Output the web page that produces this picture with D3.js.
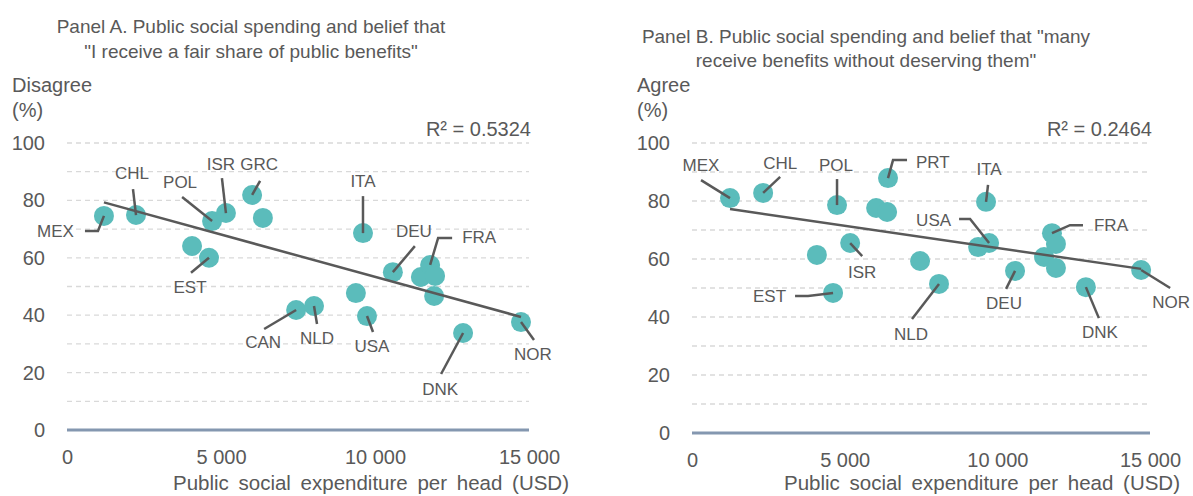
<!DOCTYPE html>
<html><head><meta charset="utf-8">
<script src="https://cdn.jsdelivr.net/npm/d3@7"></script>
<style>
html,body{margin:0;padding:0;background:#fff;}
text{font-family:"Liberation Sans",Arial,sans-serif;fill:#595959;}
</style></head>
<body><svg id="chart" width="1193" height="496"></svg>
<script>
// ---------- DATA ----------
const yTicks = [0, 20, 40, 60, 80, 100];
const xTicks = [0, 5000, 10000, 15000];
const xTickLabels = ["0", "5 000", "10 000", "15 000"];

// Panel A: disagree that "I receive a fair share of public benefits"
const countriesA = ["MEX","CHL","","EST","POL","ISR","GRC","","CAN","NLD","","ITA","USA","DEU","","FRA","","","DNK","NOR"];
const spendA     = [1200, 2240, 4060, 4610, 4710, 5160, 6010, 6360, 7440, 8020, 9380, 9610, 9740, 10580, 11490, 11790, 11950, 11920, 12860, 14740];
const shareA     = [74.6, 74.9, 64.1, 60.0, 72.8, 75.6, 81.9, 73.9, 41.8, 43.2, 47.7, 68.6, 39.7, 55.0, 53.3, 57.5, 53.7, 46.7, 33.8, 37.6];
const trendA     = [82.85, -0.002948];   // linear trend: intercept, slope
const r2A = "R² = 0.5324";

// Panel B: agree that "many receive benefits without deserving them"
const countriesB = ["MEX","CHL","","EST","POL","ISR","","","PRT","","NLD","","USA","ITA","DEU","","FRA","","","DNK","NOR"];
const spendB     = [1245, 2330, 4090, 4620, 4750, 5180, 6030, 6390, 6420, 7470, 8090, 9370, 9730, 9630, 10580, 11530, 11790, 11920, 11920, 12900, 14710];
const shareB     = [81.0, 82.8, 61.4, 48.3, 78.6, 65.5, 77.6, 76.2, 87.9, 59.3, 51.4, 64.1, 65.5, 79.7, 55.9, 60.7, 68.9, 65.2, 56.9, 50.3, 56.2];
const trendB     = [79.11, -0.0015305];
const r2B = "R² = 0.2464";

const titleA = ["Panel A. Public social spending and belief that", "\"I receive a fair share of public benefits\""];
const titleB = ["Panel B. Public social spending and belief that \"many", "receive benefits without deserving them\""];
const yTitleA = ["Disagree", "(%)"];
const yTitleB = ["Agree", "(%)"];
const xTitle = "Public social expenditure per head (USD)";

// ---------- LAYOUT (label placement, pixel offsets from the dot) ----------
const labelsA = {
  MEX:{dx:-30,dy:21,anchor:"end",lead:[[-6,15],[-19,15]]},
  CHL:{dx:-4,dy:-36,anchor:"middle",lead:[[-3,-26]]},
  POL:{dx:-32,dy:-33,anchor:"middle",lead:[[-30,-24]]},
  ISR:{dx:-5,dy:-43,anchor:"middle",lead:[[-4,-35]]},
  GRC:{dx:7,dy:-25,anchor:"middle",lead:[[8,-14]]},
  EST:{dx:-19,dy:35,anchor:"middle",lead:[[-18,15]]},
  CAN:{dx:-33,dy:38,anchor:"middle",lead:[[-32,19]]},
  NLD:{dx:3,dy:38,anchor:"middle",lead:[[3,18]]},
  USA:{dx:5,dy:36,anchor:"middle",lead:[[6,16]]},
  ITA:{dx:0,dy:-46,anchor:"middle",lead:[[0,-37]]},
  DEU:{dx:21,dy:-35,anchor:"middle",lead:[[22,-26]]},
  FRA:{dx:32,dy:-22,anchor:"start",lead:[[8,-27],[22,-27]]},
  DNK:{dx:-23,dy:62,anchor:"middle",lead:[[-22,41]]},
  NOR:{dx:12,dy:38,anchor:"middle",lead:[[13,18]]}
};
const labelsB = {
  MEX:{dx:-29,dy:-27,anchor:"middle",lead:[[-29,-18]]},
  CHL:{dx:17,dy:-24,anchor:"middle",lead:[[17,-16]]},
  POL:{dx:-1,dy:-34,anchor:"middle",lead:[[0,-26]]},
  PRT:{dx:28,dy:-10,anchor:"start",lead:[[5,-18],[19,-18]]},
  ITA:{dx:3,dy:-27,anchor:"middle",lead:[[2,-17]]},
  USA:{dx:-38,dy:-17,anchor:"end",lead:[[-19,-24],[-30,-24]]},
  FRA:{dx:42,dy:-2,anchor:"start",lead:[[18,-8],[31,-8]]},
  ISR:{dx:12,dy:35,anchor:"middle",lead:[[12,13]]},
  EST:{dx:-47,dy:9,anchor:"end",lead:[[-25,3],[-38,3]]},
  NLD:{dx:-28,dy:56,anchor:"middle",lead:[[-27,35]]},
  DEU:{dx:-11,dy:38,anchor:"middle",lead:[[-9,18]]},
  DNK:{dx:14,dy:51,anchor:"middle",lead:[[13,31]]},
  NOR:{dx:30,dy:38,anchor:"middle",lead:[[29,18]]}
};

const svg = d3.select("#chart");
const dotColor = "#5bbcbb", ink = "#595959";

function panel(cfg){
  const g = svg.append("g");
  const x = d3.scaleLinear().domain([0,15000]).range([cfg.left, cfg.right]);
  const y = d3.scaleLinear().domain([0,100]).range([cfg.bottom, cfg.top]);

  // titles
  cfg.title.forEach((t,i)=>g.append("text").attr("x",cfg.titleX).attr("y",cfg.titleY[i])
    .attr("text-anchor","middle").attr("font-size",19).text(t));
  cfg.yTitle.forEach((t,i)=>g.append("text").attr("x",cfg.yTitleX).attr("y",[92,117][i])
    .attr("font-size",20).text(t));

  // gridlines
  g.append("g").selectAll("line").data(d3.range(10,101,10)).join("line")
    .attr("x1",x(0)).attr("x2",x(15000)).attr("y1",d=>y(d)).attr("y2",d=>y(d))
    .attr("stroke","#d9d9d9").attr("stroke-width",1.3).attr("stroke-dasharray","5,4");
  g.append("line").attr("x1",x(0)).attr("x2",x(15000)).attr("y1",y(0)).attr("y2",y(0))
    .attr("stroke","#8497b0").attr("stroke-width",3);

  // y axis
  const ya = g.append("g").attr("transform",`translate(${x(0)-22},0)`)
    .call(d3.axisLeft(y).tickValues(yTicks).tickSize(0).tickPadding(0));
  ya.select(".domain").remove();
  ya.selectAll("text").attr("font-size",20).attr("fill",ink).style("font-family",'"Liberation Sans",Arial,sans-serif');

  // x axis
  const xa = g.append("g").attr("transform",`translate(0,${y(0)+20})`)
    .call(d3.axisBottom(x).tickValues(xTicks).tickFormat((d,i)=>xTickLabels[i]).tickSize(0).tickPadding(0));
  xa.select(".domain").remove();
  xa.selectAll("text").attr("font-size",20).attr("fill",ink).attr("dy","0.71em").style("font-family",'"Liberation Sans",Arial,sans-serif');

  g.append("text").attr("x",cfg.xTitleRight).attr("y",490).attr("text-anchor","end")
    .attr("font-size",20.5).attr("word-spacing","4px").text(xTitle);

  // R²
  g.append("text").attr("x",x(15000)+2).attr("y",136).attr("text-anchor","end").attr("font-size",20).text(cfg.r2);

  const pts = cfg.xs.map((v,i)=>({c:cfg.names[i], x:v, y:cfg.ys[i]}));

  // dots
  g.append("g").selectAll("circle").data(pts).join("circle")
    .attr("cx",d=>x(d.x)).attr("cy",d=>y(d.y)).attr("r",10).attr("fill",dotColor);

  // linear trend over the data range
  const [a,b] = cfg.trend;
  const [x0,x1] = d3.extent(pts,d=>d.x);
  g.append("line").attr("x1",x(x0)).attr("y1",y(a+b*x0)).attr("x2",x(x1)).attr("y2",y(a+b*x1))
    .attr("stroke",ink).attr("stroke-width",2.5);

  // labels + leaders
  pts.filter(d=>cfg.labels[d.c]).forEach(d=>{
    const L = cfg.labels[d.c], cx = x(d.x), cy = y(d.y);
    const path = [[cx,cy]].concat(L.lead.map(p=>[cx+p[0],cy+p[1]]));
    g.append("path").attr("d",d3.line()(path)).attr("fill","none")
      .attr("stroke",ink).attr("stroke-width",2.5);
    g.append("text").attr("x",cx+L.dx).attr("y",cy+L.dy).attr("text-anchor",L.anchor)
      .attr("font-size",17).text(d.c);
  });
}

panel({left:67,right:529,top:143,bottom:430,xs:spendA,ys:shareA,names:countriesA,labels:labelsA,trend:trendA,
  r2:r2A,title:titleA,titleX:251,titleY:[33,58],yTitle:yTitleA,yTitleX:12,xTitleRight:569});
panel({left:692,right:1150,top:143,bottom:433,xs:spendB,ys:shareB,names:countriesB,labels:labelsB,trend:trendB,
  r2:r2B,title:titleB,titleX:866,titleY:[43,67],yTitle:yTitleB,yTitleX:637,xTitleRight:1180});
</script></body></html>
